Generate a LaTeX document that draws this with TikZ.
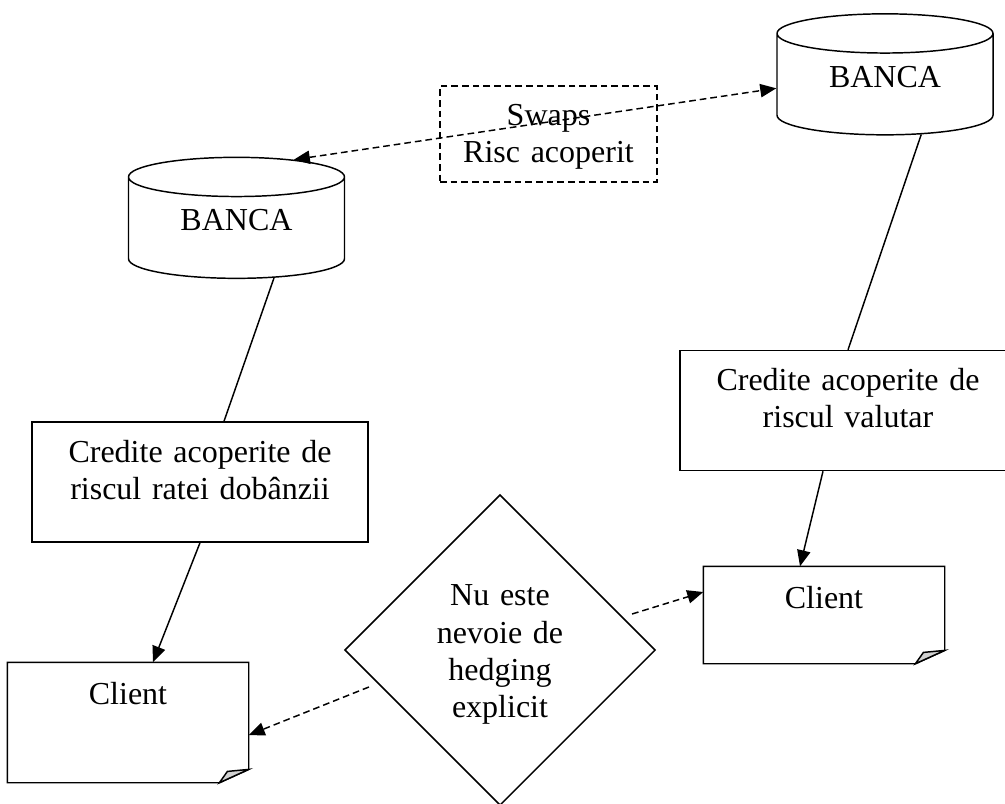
\documentclass[tikz,border=0pt]{standalone}
\usepackage{fontspec}
\setmainfont{Liberation Serif}
\usetikzlibrary{arrows.meta,shapes.geometric}

% document shape with a turned-up corner
\newcommand{\foldedpage}[1]{%
  \draw[line width=1.1pt] (#1.north west) -- (#1.north east)
    -- ([yshift=10pt]#1.south east) -- ([xshift=-22pt]#1.south east)
    -- (#1.south west) -- cycle;
  \draw[line width=1.1pt,fill=black!18] ([yshift=10pt]#1.south east)
    -- ([xshift=-16pt,yshift=8.5pt]#1.south east)
    -- ([xshift=-22pt]#1.south east) -- cycle;}

\begin{document}
\begin{tikzpicture}[x=0.75pt,y=-0.75pt,
        every node/.style={font=\fontsize{24}{28}\selectfont,line width=1.1pt},
        bank/.style={cylinder,shape border rotate=90,aspect=0.35,draw,
                     minimum width=162pt,minimum height=90.75pt,inner sep=0pt,
                     text depth=12pt},
        credit/.style={rectangle,draw,text width=252pt,align=center,
                       inner sep=0pt,text height=30pt,text depth=60pt},
        page/.style={rectangle,text width=180pt,align=center,inner sep=0pt,
                     text height=30.75pt},
        swapbox/.style={rectangle,draw,dash pattern=on 5pt off 3pt,
                        text width=162.75pt,align=center,inner sep=0pt,
                        text height=29.25pt,text depth=42.75pt},
        decision/.style={diamond,draw,aspect=1,minimum width=233pt,
                         minimum height=233pt,inner sep=0pt,
                         text width=110pt,align=center,text height=23pt},
        link/.style={line width=1.1pt},
        arrow/.style={-{Triangle[length=12pt,width=10pt]},line width=1.1pt},
        dasharrow/.style={arrow,dash pattern=on 5pt off 3pt},
        swaparrow/.style={{Triangle[length=12pt,width=10pt]}-{Triangle[length=12pt,width=10pt]},
                          line width=1.1pt,dash pattern=on 5pt off 3pt}]
        \useasboundingbox (0,0) rectangle (1005,803);
        \node[bank] (bankR) at (885,84.5) {BANCA};
        \node[bank] (bankL) at (236.5,228) {BANCA};
        \node[swapbox] (swap) at (548.5,134) {Swaps\\Risc acoperit};
        \node[credit] (rateL) at (200,482)
          {Credite acoperite de\\riscul ratei dobânzii};
        \node[credit] (fxR) at (848,410.5)
          {Credite acoperite de\\riscul valutar};
        \node[page,text depth=58.5pt] (cliL) at (128,722.5) {Client};
        \node[page,text depth=41.25pt] (cliR) at (824,615) {Client};
        \node[decision] (hedge) at (500,650)
          {Nu este\\nevoie de\\hedging\\explicit};
        \foldedpage{cliL}
        \foldedpage{cliR}
        \draw[swaparrow] (bankL.50) -- (bankR.182);
        \draw[link] (bankL.-53) -- ([xshift=18pt]rateL.north);
        \draw[link] (bankR.-54.5) -- (fxR.north);
        \draw[arrow] (rateL.south) -- ([xshift=18.75pt]cliL.north);
        \draw[arrow] ([xshift=-18.75pt]fxR.south) -- ([xshift=-18pt]cliR.north);
        \draw[dasharrow] ([xshift=-18pt,yshift=27pt]hedge.east)
          -- ([yshift=17.25pt]cliR.west);
        \draw[dasharrow] ([xshift=18.75pt,yshift=-27.75pt]hedge.west)
          -- ([yshift=-9.4pt]cliL.east);
      \end{tikzpicture}
\end{document}
